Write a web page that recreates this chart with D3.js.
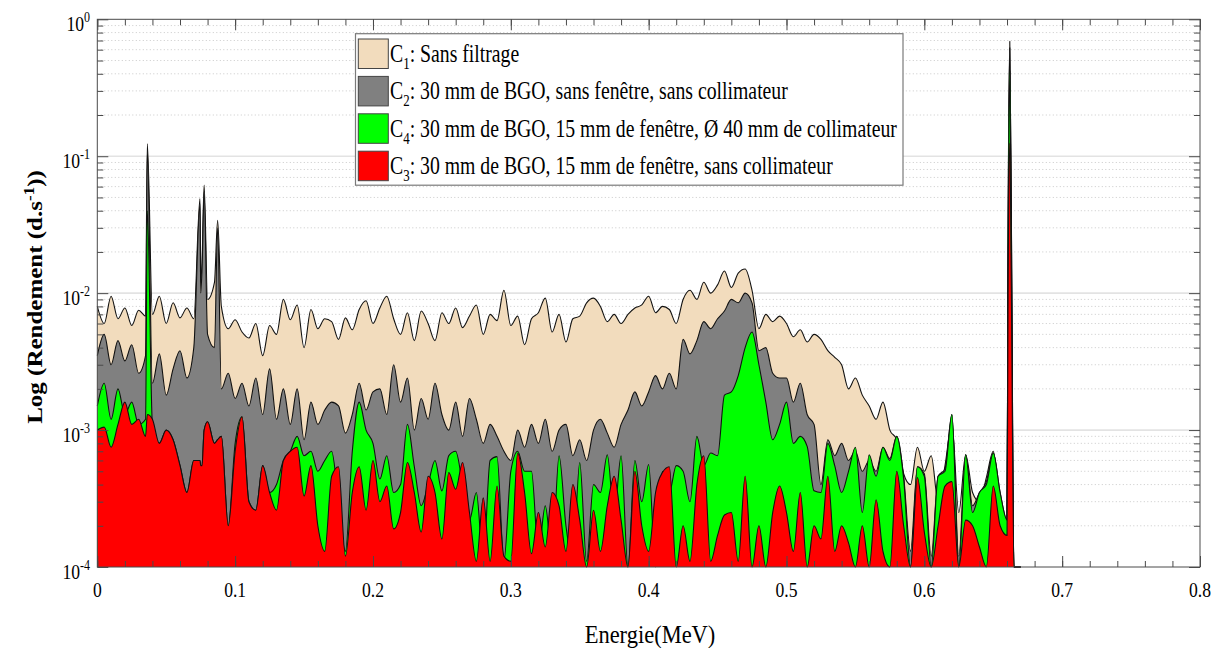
<!DOCTYPE html>
<html><head><meta charset="utf-8">
<script src="https://cdn.jsdelivr.net/npm/d3@7"></script>
<style>
body{margin:0;background:#fff}
text{font-family:"Liberation Serif","Times New Roman",serif;fill:#000}
</style>
</head><body>
<svg id="chart" width="1222" height="648"></svg>
<script>
// ---------------- DATA ----------------
// energy grid (MeV), step 0.005 from 0 to 0.67
const energies = d3.range(0, 135).map(i => +(i * 0.005).toFixed(3));

const c1Values = [
8.0e-3,6.0e-3,9.5e-3,6.5e-3,7.8e-3,5.8e-3,7.5e-3,6.8e-3,7.0e-3,9.5e-3,
6.0e-3,8.5e-3,6.6e-3,7.8e-3,6.5e-3,1.2e-2,9.0e-3,1.2e-2,8.0e-3,5.5e-3,
6.4e-3,5.2e-3,4.7e-3,6.0e-3,3.5e-3,5.8e-3,5.0e-3,9.0e-3,6.4e-3,8.2e-3,
4.0e-3,7.6e-3,5.5e-3,6.5e-3,6.2e-3,4.6e-3,6.6e-3,5.4e-3,7.6e-3,8.8e-3,
6.0e-3,7.8e-3,9.5e-3,6.5e-3,5.0e-3,7.2e-3,4.5e-3,7.4e-3,6.0e-3,4.5e-3,
7.2e-3,6.0e-3,7.8e-3,5.6e-3,6.8e-3,8.2e-3,5.0e-3,7.0e-3,6.3e-3,1.05e-2,
5.8e-3,6.8e-3,4.2e-3,6.5e-3,7.2e-3,9.2e-3,5.2e-3,7.0e-3,4.4e-3,6.5e-3,
6.8e-3,8.5e-3,9.2e-3,8.0e-3,6.2e-3,7.0e-3,6.0e-3,7.0e-3,7.8e-3,8.2e-3,
9.5e-3,7.2e-3,8.0e-3,7.6e-3,6.0e-3,9.0e-3,1.05e-2,9.0e-3,1.2e-2,1.0e-2,
1.15e-2,1.45e-2,1.1e-2,1.4e-2,1.5e-2,1.05e-2,5.5e-3,7.0e-3,6.2e-3,6.8e-3,
6.0e-3,4.8e-3,5.4e-3,4.4e-3,5.0e-3,4.6e-3,3.8e-3,3.4e-3,3.0e-3,2.0e-3,
2.4e-3,1.8e-3,1.5e-3,1.2e-3,1.6e-3,1.0e-3,8.5e-4,4.8e-4,4.0e-4,7.5e-4,
5.0e-4,6.5e-4,3.0e-4,5.5e-4,1.1e-3,2.5e-4,6.6e-4,3.5e-4,3.0e-4,4.5e-4,
7.0e-4,3.0e-4,2.2e-4,0,0];

const c2Values = [
3.5e-3,5.0e-3,3.0e-3,4.5e-3,3.2e-3,4.2e-3,2.6e-3,3.5e-3,2.2e-3,3.6e-3,
1.8e-3,2.8e-3,3.8e-3,2.4e-3,4.0e-3,1.0e-2,5.0e-3,4.0e-3,2.0e-3,2.6e-3,
1.7e-3,2.2e-3,1.5e-3,2.4e-3,1.3e-3,2.8e-3,1.2e-3,2.0e-3,1.1e-3,2.0e-3,
8.5e-4,1.6e-3,1.1e-3,1.4e-3,1.6e-3,1.5e-3,9.5e-4,1.3e-3,2.2e-3,1.4e-3,
1.9e-3,2.0e-3,1.3e-3,3.0e-3,1.6e-3,2.4e-3,1.0e-3,1.7e-3,1.2e-3,2.2e-3,
1.3e-3,1.0e-3,1.6e-3,9.0e-4,1.7e-3,1.2e-3,8.0e-4,1.1e-3,9.0e-4,7.0e-4,
6.0e-4,1.0e-3,7.5e-4,1.1e-3,8.0e-4,1.2e-3,7.0e-4,1.0e-3,1.1e-3,6.5e-4,
8.5e-4,6.0e-4,1.0e-3,1.2e-3,9.5e-4,7.5e-4,1.1e-3,1.4e-3,1.9e-3,1.5e-3,
1.9e-3,2.5e-3,2.0e-3,2.6e-3,2.0e-3,4.6e-3,3.6e-3,4.5e-3,6.2e-3,5.5e-3,
6.5e-3,7.4e-3,9.0e-3,8.5e-3,1.0e-2,8.5e-3,3.8e-3,4.0e-3,2.6e-3,2.4e-3,
2.4e-3,1.6e-3,2.2e-3,1.3e-3,1.1e-3,4.0e-4,8.5e-4,6.5e-4,8.0e-4,6.0e-4,
7.0e-4,5.0e-4,6.0e-4,5.0e-4,7.5e-4,6.2e-4,9.0e-4,4.6e-4,1.3e-4,5.4e-4,
4.8e-4,1.2e-4,4.6e-4,5.2e-4,1.3e-3,1.2e-4,6.6e-4,2.8e-4,3.5e-4,4.2e-4,
6.8e-4,3.5e-4,2.2e-4,0,0];

const c4Values = [
1.5e-3,2.2e-3,1.2e-3,2.0e-3,1.3e-3,1.6e-3,1.1e-3,1.2e-3,1.1e-3,8.0e-4,
1.0e-3,8.5e-4,5.5e-4,3.5e-4,6.0e-4,5.5e-4,1.15e-3,8.0e-4,9.0e-4,2.0e-4,
8.0e-4,1.25e-3,3.0e-4,2.6e-4,5.5e-4,3.5e-4,4.0e-4,6.0e-4,7.0e-4,9.0e-4,
6.5e-4,7.0e-4,5.0e-4,6.0e-4,7.0e-4,3.0e-4,1.3e-4,7.0e-4,1.6e-3,1.0e-3,
8.0e-4,4.4e-4,6.5e-4,3.5e-4,4.0e-4,1.1e-3,5.4e-4,2.8e-4,4.0e-4,6.0e-4,
3.6e-4,6.5e-4,7.0e-4,4.0e-4,2.2e-4,3.5e-4,1.1e-4,6.0e-4,6.4e-4,1.1e-4,
5.0e-4,7.0e-4,5.0e-4,5.0e-4,1.3e-4,2.8e-4,1.2e-4,6.5e-4,2.0e-4,1.1e-4,
5.8e-4,1.1e-4,4.0e-4,3.5e-4,6.6e-4,2.4e-4,6.5e-4,1.0e-4,6.0e-4,3.0e-4,
5.6e-4,1.0e-4,5.0e-4,3.5e-4,5.5e-4,5.0e-4,3.0e-4,9.0e-4,5.5e-4,6.8e-4,
6.5e-4,1.8e-3,1.9e-3,2.5e-3,4.0e-3,5.2e-3,3.0e-3,1.6e-3,8.5e-4,1.1e-3,
1.6e-3,8.0e-4,9.0e-4,7.6e-4,3.6e-4,3.5e-4,8.0e-4,5.5e-4,3.5e-4,5.0e-4,
7.5e-4,2.5e-4,6.6e-4,4.6e-4,7.5e-4,6.0e-4,9.0e-4,4.4e-4,1.0e-4,5.4e-4,
4.6e-4,1.0e-4,4.6e-4,5.0e-4,1.3e-3,1.0e-4,6.6e-4,2.5e-4,3.5e-4,4.0e-4,
6.8e-4,3.5e-4,2.2e-4,0,0];

const c3Values = [
1.0e-3,1.05e-3,7.5e-4,1.1e-3,1.6e-3,1.1e-3,1.2e-3,9.0e-4,1.2e-3,8.0e-4,
1.0e-3,8.5e-4,5.5e-4,3.5e-4,6.0e-4,5.5e-4,1.15e-3,8.0e-4,9.0e-4,2.0e-4,
7.0e-4,1.25e-3,3.0e-4,2.6e-4,5.5e-4,3.5e-4,2.6e-4,6.0e-4,7.0e-4,7.5e-4,
3.3e-4,5.5e-4,2.0e-4,1.3e-4,4.6e-4,5.4e-4,1.2e-4,3.5e-4,5.4e-4,2.6e-4,
6.0e-4,3.0e-4,3.9e-4,1.9e-4,2.5e-4,5.8e-4,3.5e-4,1.8e-4,4.6e-4,3.5e-4,
1.6e-4,4.9e-4,3.7e-4,5.8e-4,2.5e-4,1.1e-4,3.2e-4,1.1e-4,3.9e-4,1.2e-4,
1.1e-4,6.8e-4,3.5e-4,1.25e-4,2.5e-4,1.4e-4,3.5e-4,2.8e-4,1.3e-4,4.0e-4,
2.2e-4,1.0e-4,2.6e-4,1.3e-4,2.8e-4,4.6e-4,2.2e-4,1.0e-4,5.0e-4,2.0e-4,
1.3e-4,3.5e-4,4.9e-4,5.4e-4,1.0e-4,2.0e-4,1.1e-4,4.0e-4,6.5e-4,1.1e-4,
1.7e-4,2.4e-4,2.5e-4,1.1e-4,4.6e-4,1.0e-4,2.0e-4,1.0e-4,2.5e-4,3.9e-4,
2.5e-4,1.3e-4,3.5e-4,1.0e-4,2.0e-4,1.6e-4,4.6e-4,1.3e-4,2.0e-4,1.5e-4,
1.0e-4,2.0e-4,1.0e-4,3.1e-4,1.3e-4,1.0e-4,5.0e-4,2.0e-4,1.0e-4,4.5e-4,
1.8e-4,1.0e-4,2.0e-4,3.9e-4,4.2e-4,1.0e-4,2.2e-4,2.0e-4,1.4e-4,1.0e-4,
3.9e-4,2.0e-4,1.7e-4,0,0];

// narrow peaks (energies in MeV) added between grid points
const peakEnergies = [0.0363, 0.0745, 0.0760, 0.0775, 0.0873, 0.6608, 0.6620, 0.6632];
const c1Peaks = [0.123, 0.049, 0.017, 0.0615, 0.034, 0.035, 0.69, 0.030];
const c2Peaks = [0.110, 0.045, 0.015, 0.055, 0.030, 0.030, 0.62, 0.026];
const c4Peaks = [0.040, 6.0e-4, 5.5e-4, 1.0e-3, 8.5e-4, 0.020, 0.42, 0.016];
const c3Peaks = [1.3e-3, 6.0e-4, 5.5e-4, 1.0e-3, 8.5e-4, 0.011, 0.125, 0.009];

const seriesSubs = ["1", "2", "4", "3"];
const legendTexts = [
  ": Sans filtrage",
  ": 30 mm de BGO, sans fenêtre, sans collimateur",
  ": 30 mm de BGO, 15 mm de fenêtre, Ø 40 mm de collimateur",
  ": 30 mm de BGO, 15 mm de fenêtre, sans collimateur"
];
const seriesColors = ["#f2dcbd", "#808080", "#00ff00", "#ff0000"];

const xTickValues = [0, 0.1, 0.2, 0.3, 0.4, 0.5, 0.6, 0.7, 0.8];
const xTickLabels = ["0", "0.1", "0.2", "0.3", "0.4", "0.5", "0.6", "0.7", "0.8"];
const yTickExponents = [0, -1, -2, -3, -4];
const xTitle = "Energie(MeV)";

// ---------------- CHART ----------------
const svg = d3.select("#chart");
const L = 97.3, R = 1200, T = 19.3, B = 567;
const x = d3.scaleLinear().domain([0, 0.8]).range([L, R]);
const y = d3.scaleLog().domain([1e-4, 1]).range([B, T]).clamp(true);
const SQ = 0.8; // horizontal squeeze of text

// grid (behind data)
const minorVals = [];
for (let d = -4; d < 0; d++) for (let k = 2; k <= 9; k++) minorVals.push(k * Math.pow(10, d));
const majorVals = [1e-3, 1e-2, 1e-1];
const grid = svg.append("g");
grid.selectAll("line.mi").data(minorVals).join("line")
  .attr("x1", L).attr("x2", R).attr("y1", d => y(d)).attr("y2", d => y(d))
  .attr("stroke", "#bdbdbd").attr("stroke-width", 0.8).attr("stroke-dasharray", "1,2.5");
grid.selectAll("line.ma").data(majorVals).join("line")
  .attr("x1", L).attr("x2", R).attr("y1", d => y(d)).attr("y2", d => y(d))
  .attr("stroke", "#e3e3e3").attr("stroke-width", 1.6);

// series
function buildSeries(vals, peaks) {
  const pts = energies.map((e, i) => ({ e, v: vals[i] }));
  peakEnergies.forEach((e, j) => pts.push({ e, v: peaks[j] }));
  pts.sort((a, b) => a.e - b.e);
  return pts;
}
const allSeries = [
  buildSeries(c1Values, c1Peaks),
  buildSeries(c2Values, c2Peaks),
  buildSeries(c4Values, c4Peaks),
  buildSeries(c3Values, c3Peaks)
];
const yv = d => y(Math.max(d.v, 1e-6));
const area = d3.area().x(d => x(d.e)).y0(B).y1(yv).curve(d3.curveMonotoneX);
const line = d3.line().x(d => x(d.e)).y(yv).curve(d3.curveMonotoneX);
const dataG = svg.append("g");
allSeries.forEach((s, k) => {
  dataG.append("path").datum(s).attr("d", area).attr("fill", seriesColors[k]);
  dataG.append("path").datum(s).attr("d", line).attr("fill", "none")
    .attr("stroke", "#111").attr("stroke-width", 1.1).attr("stroke-linejoin", "round");
});

// axes (inward ticks)
const axisColor = "#4a4a4a";
const xMinor = d3.range(0, 0.8001, 0.02);
const yMajor = [1e-4, 1e-3, 1e-2, 1e-1, 1];
function axis(gen, tf, vals, size) {
  svg.append("g").attr("transform", tf)
    .call(gen.tickValues(vals).tickSize(size).tickFormat(""))
    .call(g => g.select(".domain").remove())
    .selectAll("line").attr("stroke", axisColor);
}
axis(d3.axisBottom(x), `translate(0,${B})`, xMinor, -6);
axis(d3.axisBottom(x), `translate(0,${B})`, xTickValues, -11);
axis(d3.axisTop(x), `translate(0,${T})`, xMinor, -6);
axis(d3.axisTop(x), `translate(0,${T})`, xTickValues, -11);
axis(d3.axisLeft(y), `translate(${L},0)`, minorVals, -6);
axis(d3.axisLeft(y), `translate(${L},0)`, yMajor, -11);
axis(d3.axisRight(y), `translate(${R},0)`, minorVals, -6);
axis(d3.axisRight(y), `translate(${R},0)`, yMajor, -11);
svg.append("rect").attr("x", L).attr("y", T).attr("width", R - L).attr("height", B - T)
  .attr("fill", "none").attr("stroke", axisColor).attr("stroke-width", 1);

// x tick labels
xTickValues.forEach((v, i) => {
  svg.append("text").attr("transform", `translate(${x(v)},597) scale(${SQ},1)`)
    .attr("text-anchor", "middle").attr("font-size", 22).text(xTickLabels[i]);
});
// y tick labels
yTickExponents.forEach(ex => {
  const t = svg.append("text").attr("transform", `translate(90,${y(Math.pow(10, ex)) + 12}) scale(${SQ},1)`)
    .attr("text-anchor", "end").attr("font-size", 22);
  t.append("tspan").text("10");
  t.append("tspan").attr("font-size", 15).attr("dy", -9).text(ex === 0 ? "0" : "-" + Math.abs(ex));
});

// axis titles
svg.append("text").attr("transform", `translate(650,643) scale(0.9,1)`)
  .attr("text-anchor", "middle").attr("font-size", 25).text(xTitle);
const yt = svg.append("text").attr("transform", `translate(42,297) rotate(-90) scale(1,0.85)`)
  .attr("text-anchor", "middle").attr("font-size", 25).attr("font-weight", "bold");
yt.append("tspan").text("Log (Rendement (d.s");
yt.append("tspan").attr("font-size", 17).attr("dy", -10).text("-1");
yt.append("tspan").attr("dy", 10).text("))");

// legend
const lg = svg.append("g");
lg.append("rect").attr("x", 355.5).attr("y", 33.7).attr("width", 547.5).attr("height", 151.5)
  .attr("fill", "#fff").attr("stroke", "#7a7a7a").attr("stroke-width", 1.2);
const rows = [];
seriesSubs.forEach((sub, k) => {
  const ry = 39 + k * 37.4;
  lg.append("rect").attr("x", 358.3).attr("y", ry).attr("width", 30).attr("height", 29.5)
    .attr("fill", seriesColors[k]).attr("stroke", "#444").attr("stroke-width", 1);
  const t = lg.append("text").attr("font-size", 26).attr("x", 0).attr("y", 0);
  t.append("tspan").text("C");
  t.append("tspan").attr("font-size", 17).attr("dy", 7).text(sub);
  t.append("tspan").attr("dy", -7).text(legendTexts[k]);
  rows.push({ t, ry });
});
const wLong = rows[2].t.node().getComputedTextLength();
const s = (897 - 390) / wLong;
rows.forEach(r => r.t.attr("transform", `translate(390,${r.ry + 23}) scale(${s},1)`));
</script>
</body></html>
